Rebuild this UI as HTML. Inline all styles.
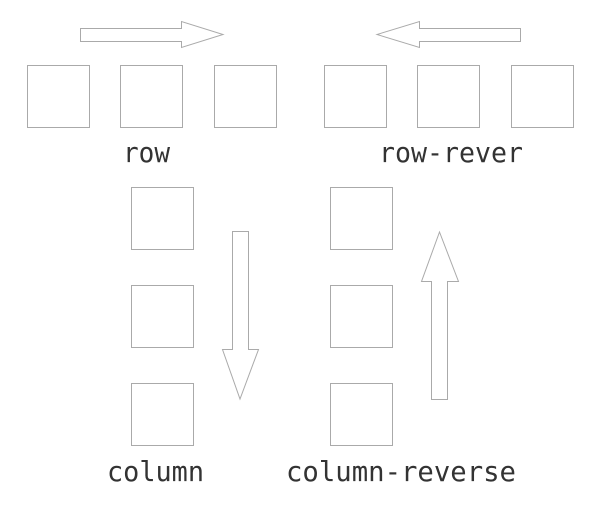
<!DOCTYPE html>
<html><head><style>html,body{margin:0;padding:0;background:#fff}svg{display:block}</style></head>
<body>
<svg width="590" height="506" viewBox="0 0 590 506" xmlns="http://www.w3.org/2000/svg">
<g fill="#fff" stroke="#aaa" stroke-width="1">
<rect x="27.5" y="65.5" width="62" height="62"/>
<rect x="120.5" y="65.5" width="62" height="62"/>
<rect x="214.5" y="65.5" width="62" height="62"/>
<rect x="324.5" y="65.5" width="62" height="62"/>
<rect x="417.5" y="65.5" width="62" height="62"/>
<rect x="511.5" y="65.5" width="62" height="62"/>
<rect x="131.5" y="187.5" width="62" height="62"/>
<rect x="131.5" y="285.5" width="62" height="62"/>
<rect x="131.5" y="383.5" width="62" height="62"/>
<rect x="330.5" y="187.5" width="62" height="62"/>
<rect x="330.5" y="285.5" width="62" height="62"/>
<rect x="330.5" y="383.5" width="62" height="62"/>
<polygon points="80.5,28.5 181.5,28.5 181.5,21.5 223,34.5 181.5,47.5 181.5,41.5 80.5,41.5"/>
<polygon points="520.5,28.5 419.5,28.5 419.5,21.5 377,34.5 419.5,47.5 419.5,41.5 520.5,41.5"/>
<polygon points="232.5,231.5 248.5,231.5 248.5,349.5 258.5,349.5 240,399 222.5,349.5 232.5,349.5"/>
<polygon points="431.5,399.5 447.5,399.5 447.5,281.5 458.5,281.5 439.5,232 421.5,281.5 431.5,281.5"/>
</g>
<g font-family="'DejaVu Sans Mono','Liberation Mono',monospace" font-size="28" fill="#333">
<text x="123" y="162" textLength="47" lengthAdjust="spacingAndGlyphs">row</text>
<text x="379" y="162" textLength="144" lengthAdjust="spacingAndGlyphs">row-rever</text>
<text x="107" y="481" textLength="97" lengthAdjust="spacingAndGlyphs">column</text>
<text x="286" y="481" textLength="230" lengthAdjust="spacingAndGlyphs">column-reverse</text>
</g>
</svg>
</body></html>
